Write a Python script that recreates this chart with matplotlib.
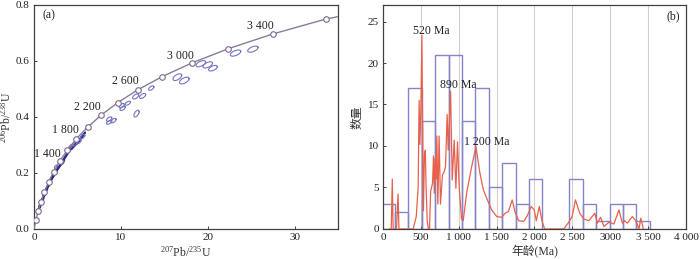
import numpy as np
import matplotlib
matplotlib.use('Agg')
import matplotlib.pyplot as plt

plt.rcParams['font.family'] = ['Liberation Serif', 'Noto Sans CJK SC']
plt.rcParams['mathtext.fontset'] = 'custom'
plt.rcParams['mathtext.rm'] = 'Liberation Serif'
plt.rcParams['mathtext.default'] = 'regular'
plt.rcParams['font.size'] = 8

# ---- (a) U-Pb 谐和图 ----
# 谐和线上的点 (每 200 Ma)
conc_x = [0, 0.218, 0.483, 0.806, 1.199, 1.677, 2.260, 2.970, 3.835, 4.887,
          6.168, 7.729, 9.629, 11.944, 14.762, 18.195, 22.37, 27.46, 33.65]
conc_y = [0, 0.0315, 0.0640, 0.0976, 0.1322, 0.1678, 0.2046, 0.2424, 0.2814, 0.3225,
          0.3633, 0.4066, 0.4509, 0.4968, 0.5441, 0.5931, 0.6437, 0.6960, 0.7500]
conc_end = (35, 0.758)
conc_labels = ['1 400', '1 800', '2 200', '2 600', '3 000', '3 400']
conc_label_x = [1.5, 3.65, 6.2, 10.5, 16.8, 26.1]
conc_label_y = [0.266, 0.353, 0.435, 0.528, 0.616, 0.726]

# 年轻锆石 (密集小椭圆): 中心, 误差, 相关系数
young_x = [0.55, 0.75, 0.9, 1.05, 1.2, 1.35, 1.5, 1.6, 1.75, 1.9, 2.05, 2.2, 2.35, 2.5,
           2.7, 2.9, 3.1, 3.3, 3.5, 3.7, 3.9, 4.1, 4.3, 4.5, 4.7, 4.9, 5.1, 5.3, 5.5, 5.7]
young_y = [0.072, 0.088, 0.100, 0.112, 0.125, 0.134, 0.146, 0.152, 0.162, 0.172, 0.180,
           0.188, 0.196, 0.203, 0.214, 0.222, 0.232, 0.238, 0.252, 0.262, 0.272, 0.282,
           0.288, 0.293, 0.300, 0.306, 0.312, 0.320, 0.330, 0.336]
young_sx = 0.2
young_sy = 0.009
young_rho = 0.95

# 古老锆石 (大椭圆)
old_x = [23.2, 25.2, 19.2, 20.0, 20.6, 16.5, 17.3, 13.5, 12.5, 11.7, 11.8, 10.8, 10.1,
         10.2, 8.65, 9.15, 8.65, 5.6, 5.2, 4.7, 4.2, 3.3, 2.5]
old_y = [0.628, 0.642, 0.590, 0.586, 0.574, 0.542, 0.530, 0.503, 0.475, 0.473, 0.412,
         0.449, 0.440, 0.431, 0.392, 0.387, 0.381, 0.330, 0.312, 0.303, 0.294, 0.236, 0.222]
old_sx = [0.6, 0.6, 0.55, 0.55, 0.5, 0.5, 0.55, 0.3, 0.35, 0.35, 0.3, 0.3, 0.3,
          0.3, 0.3, 0.3, 0.3, 0.25, 0.2, 0.2, 0.2, 0.15, 0.15]
old_sy = [0.011, 0.011, 0.011, 0.011, 0.010, 0.012, 0.012, 0.008, 0.009, 0.009, 0.012,
          0.007, 0.008, 0.008, 0.008, 0.008, 0.007, 0.008, 0.007, 0.007, 0.007, 0.006, 0.006]
old_rho = 0.55

# ---- (b) 年龄直方图与概率曲线 ----
bin_start = -18
bin_width = 177
counts = [3, 2, 17, 13, 21, 21, 13, 17, 5, 8, 3, 6, 0, 0, 6, 3, 1, 3, 3, 1]

pdf_age = [90, 110, 124, 135, 180, 200, 212, 400, 440, 465, 478, 488, 500, 515, 525,
           535, 548, 560, 570, 585, 600, 615, 630, 655, 668, 678, 690, 700, 712, 725,
           742, 760, 786, 809, 826, 848, 862, 893, 915, 941, 963, 985, 1007, 1038,
           1060, 1105, 1171, 1228, 1281, 1326, 1379, 1436, 1502, 1569, 1613, 1657,
           1706, 1745, 1790, 1856, 1900, 1958, 1997, 2024, 2064, 2099, 2134, 2386,
           2452, 2497, 2541, 2598, 2651, 2718, 2797, 2828, 2872, 2917, 2983, 3049,
           3115, 3160, 3190, 3226, 3292, 3336, 3380, 3403, 3438]
pdf_val = [0, 0, 6.0, 0, 0, 4.2, 0, 0, 1.5, 5, 15.5, 10.2, 14, 23.3, 10,
           2.2, 9, 9.5, 5, 1, 0, 0, 4.5, 5.5, 8.8, 4.3, 8.5, 6, 11.2, 3,
           11.2, 3, 6.5, 6.9, 7.5, 13.8, 9.5, 16.6, 5.9, 10.7, 4.9, 10.5, 5, 1.2,
           1, 4.3, 7.5, 9.9, 6.7, 4.7, 3.5, 2.3, 1.5, 1.4, 1.9, 2.1,
           3.5, 2, 1, 0.9, 1.5, 2.7, 2.3, 1, 2.7, 1, 0, 0,
           0.8, 1.5, 3.5, 1.9, 1.2, 1, 1.9, 0.7, 1.4, 0.3, 0.8, 0.6,
           2.3, 0.7, 1, 0.7, 1.5, 1.0, 0, 1.3, 0]

peak_labels = ['520 Ma', '890 Ma', '1 200 Ma']
peak_x = [640, 994, 1370]
peak_y = [23.8, 17.4, 10.5]

x_ticks_b = [0, 500, 1000, 1500, 2000, 2500, 3000, 3500, 4000]
x_ticklabels_b = ['0', '500', '1 000', '1 500', '2 000', '2 500', '3000', '3 500', '4 000']


def error_ellipse(cx, cy, sx, sy, rho):
    t = np.linspace(0, 2 * np.pi, 60)
    ex = cx + sx * np.cos(t)
    ey = cy + sy * (rho * np.cos(t) + np.sqrt(1 - rho ** 2) * np.sin(t))
    return ex, ey


fig = plt.figure(figsize=(7, 2.59), dpi=100)
ax1 = fig.add_axes([0.0486, 0.116, 0.4343, 0.865])
ax2 = fig.add_axes([0.547, 0.116, 0.433, 0.865])

spine_col = '#404040'
for ax in (ax1, ax2):
    for s in ax.spines.values():
        s.set_color(spine_col)
        s.set_linewidth(0.9)
    ax.tick_params(direction='in', length=2.5, width=0.7, colors=spine_col,
                   labelcolor='#222222', labelsize=8, pad=3)

# (a)
for cx, cy in zip(young_x, young_y):
    ex, ey = error_ellipse(cx, cy, young_sx, young_sy, young_rho)
    ax1.plot(ex, ey, color='#2a2a88', lw=1.0)
for cx, cy, sx, sy in zip(old_x, old_y, old_sx, old_sy):
    ex, ey = error_ellipse(cx, cy, sx, sy, old_rho)
    ax1.plot(ex, ey, color='#7474c4', lw=0.8)

ax1.plot(conc_x + [conc_end[0]], conc_y + [conc_end[1]], color='#8c7a96', lw=1, zorder=3)
ax1.plot(conc_x[1:], conc_y[1:], 'o', ms=4, mfc='white', mec='#7a6a8a', mew=0.8, zorder=4)
for lab, lx, ly in zip(conc_labels, conc_label_x, conc_label_y):
    ax1.text(lx, ly, lab, ha='center', va='center', fontsize=8.5, color='#222222')
ax1.text(1.7, 0.763, '(a)', ha='center', va='center', fontsize=8.5, color='#222222')

ax1.set_xlim(0, 35)
ax1.set_ylim(0, 0.8)
ax1.set_xticks([0, 10, 20, 30])
ax1.set_yticks([0, 0.2, 0.4, 0.6, 0.8])
ax1.set_yticklabels(['0.0', '0.2', '0.4', '0.6', '0.8'])
ax1.set_xlabel(r'$^{207}$Pb/$^{235}$U', fontsize=8.5, labelpad=2, color='#333333')
ax1.set_ylabel(r'$^{206}$Pb/$^{238}$U', fontsize=8.5, labelpad=2, color='#333333')

# (b)
for xv in [500, 1000, 1500, 2000, 2500, 3000, 3500]:
    ax2.axvline(xv, color='#d9cccc', lw=0.8, zorder=0)
lefts = [bin_start + i * bin_width for i in range(len(counts))]
ax2.bar(lefts, counts, width=bin_width, align='edge', fill=False,
        edgecolor='#8484c8', lw=1, zorder=2)
ax2.plot(pdf_age, pdf_val, color='#e8604a', lw=0.9, zorder=3)
for lab, lx, ly in zip(peak_labels, peak_x, peak_y):
    ax2.text(lx, ly, lab, ha='center', va='center', fontsize=8.5, color='#222222', zorder=5)
ax2.text(3835, 25.6, '(b)', ha='center', va='center', fontsize=8.5, color='#222222')

ax2.set_xlim(0, 4000)
ax2.set_ylim(0, 27)
ax2.set_xticks(x_ticks_b)
ax2.set_xticklabels(x_ticklabels_b)
ax2.set_yticks([0, 5, 10, 15, 20, 25])
ax2.set_xlabel('年龄(Ma)', fontsize=8.5, labelpad=2, color='#333333')
ax2.set_ylabel('数量', fontsize=8.5, labelpad=3, color='#333333')

fig.savefig('out.png', dpi=100)
